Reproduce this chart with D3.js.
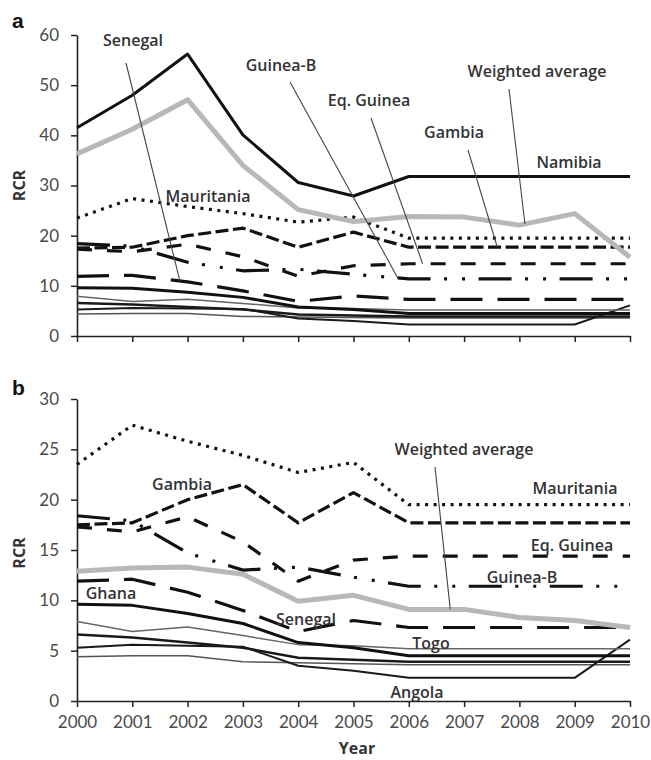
<!DOCTYPE html>
<html>
<head>
<meta charset="utf-8">
<script src="https://cdnjs.cloudflare.com/ajax/libs/d3/7.8.5/d3.min.js"></script>
<style>
  html, body { margin: 0; padding: 0; background: #fff; }
  svg { display: block; }
  .tick text { font-family: Lato, "Open Sans", sans-serif; fill: #4a4a4a; }
</style>
</head>
<body>
<svg id="chart" width="651" height="760"></svg>
<script>
// ---------------- data ----------------
const years = [2000, 2001, 2002, 2003, 2004, 2005, 2006, 2007, 2008, 2009, 2010];
const yTicksA = [0, 10, 20, 30, 40, 50, 60];
const yTicksB = [0, 5, 10, 15, 20, 25, 30];

const namibia    = [41.5, 48.0, 56.2, 40.1, 30.6, 27.9, 31.8, 31.8, 31.8, 31.8, 31.8];
const mauritania = [23.5, 27.4, 25.8, 24.4, 22.7, 23.7, 19.5, 19.5, 19.5, 19.5, 19.5];
const gambia     = [17.5, 17.7, 20.0, 21.5, 17.7, 20.7, 17.7, 17.7, 17.7, 17.7, 17.7];
const eqGuinea   = [17.3, 16.8, 18.3, 15.8, 11.9, 14.0, 14.4, 14.4, 14.4, 14.4, 14.4];
const guineaB    = [18.4, 17.9, 14.7, 13.0, 13.3, 12.3, 11.4, 11.4, 11.4, 11.4, 11.4];
const senegal    = [11.9, 12.1, 10.8, 9.0, 6.9, 8.0, 7.3, 7.3, 7.3, 7.3, 7.3];
const ghana      = [9.6, 9.5, 8.7, 7.7, 5.8, 5.3, 4.5, 4.5, 4.5, 4.5, 4.5];
const togo       = [7.9, 6.9, 7.35, 6.5, 5.6, 5.5, 5.2, 5.2, 5.2, 5.2, 5.2];
const otherA     = [6.6, 6.3, 5.8, 5.3, 4.3, 4.1, 3.9, 3.9, 3.9, 3.9, 3.9];
const angola     = [5.3, 5.6, 5.5, 5.4, 3.5, 3.0, 2.3, 2.3, 2.3, 2.3, 6.1];
const otherB     = [4.4, 4.5, 4.5, 3.9, 3.8, 3.7, 3.6, 3.6, 3.6, 3.6, 3.6];
const wAvgA      = [36.3, 41.2, 47.1, 34.0, 25.2, 22.8, 23.8, 23.7, 22.1, 24.4, 15.7];
const wAvgB      = [12.9, 13.2, 13.3, 12.6, 9.9, 10.5, 9.1, 9.1, 8.3, 8.0, 7.3];

// ---------------- styles ----------------
const styles = {
  namibia:    { color: "#111", width: 3, dash: null },
  mauritania: { color: "#111", width: 3.2, dash: "3 5.5" },
  gambia:     { color: "#111", width: 3.2, dash: "13 4.5" },
  eqGuinea:   { color: "#111", width: 3.2, dash: "15 15" },
  guineaB:    { color: "#111", width: 3.2, dash: "33 13.5 3 15 3 13.5" },
  senegal:    { color: "#111", width: 3.2, dash: "32 15" },
  ghana:      { color: "#111", width: 3, dash: null },
  togo:       { color: "#666", width: 1.5, dash: null },
  otherA:     { color: "#1a1a1a", width: 2.5, dash: null },
  angola:     { color: "#1a1a1a", width: 2, dash: null },
  otherB:     { color: "#555", width: 1.5, dash: null },
  wAvg:       { color: "#b8b8b8", width: 5, dash: null }
};

const seriesA = [
  ["otherB", otherB], ["angola", angola], ["otherA", otherA], ["togo", togo], ["ghana", ghana],
  ["senegal", senegal], ["guineaB", guineaB], ["eqGuinea", eqGuinea], ["gambia", gambia],
  ["mauritania", mauritania], ["wAvg", wAvgA], ["namibia", namibia]
];
const seriesB = [
  ["otherB", otherB], ["angola", angola], ["otherA", otherA], ["togo", togo], ["ghana", ghana],
  ["senegal", senegal], ["guineaB", guineaB], ["eqGuinea", eqGuinea], ["gambia", gambia],
  ["mauritania", mauritania], ["wAvg", wAvgB]
];

// label layout (text positions) and leader targets (year on a series)
const labelsA = [
  { text: "Senegal", x: 133, y: 40, from: [126, 63], target: [2001.86, senegal] },
  { text: "Guinea-B", x: 281, y: 65, from: [290, 82], target: [2005.8, guineaB] },
  { text: "Eq. Guinea", x: 369, y: 100, from: [371, 118], target: [2006.25, eqGuinea] },
  { text: "Gambia", x: 454, y: 132, from: [468, 150], target: [2007.6, gambia] },
  { text: "Weighted average", x: 537, y: 71, from: [509, 89], target: [2008.1, wAvgA] },
  { text: "Namibia", x: 569, y: 162 },
  { text: "Mauritania", x: 208, y: 196 }
];
const labelsB = [
  { text: "Gambia", x: 182, y: 484 },
  { text: "Weighted average", x: 464, y: 449, from: [435, 467], target: [2006.75, wAvgB] },
  { text: "Mauritania", x: 575, y: 488 },
  { text: "Eq. Guinea", x: 572, y: 545 },
  { text: "Guinea-B", x: 522, y: 577 },
  { text: "Ghana", x: 111, y: 593 },
  { text: "Senegal", x: 306, y: 619 },
  { text: "Togo", x: 431, y: 643 },
  { text: "Angola", x: 417, y: 692 }
];

// ---------------- drawing ----------------
const svg = d3.select("#chart");
const FONT = "'Open Sans', Lato, sans-serif";

const x = d3.scaleLinear().domain([2000, 2010]).range([77, 630]);

function interp(arr, yr) {
  const i = Math.min(Math.floor(yr - 2000), 9);
  const t = yr - 2000 - i;
  return arr[i] + (arr[i + 1] - arr[i]) * t;
}

function panel(opts) {
  const y = d3.scaleLinear().domain([0, opts.ymax]).range([opts.y0, opts.y1]);
  const g = svg.append("g");

  // y axis
  const ya = g.append("g").attr("transform", `translate(${x(2000)},0)`)
    .call(d3.axisLeft(y).tickValues(opts.yticks).tickSize(6).tickSizeOuter(0).tickPadding(12));
  ya.selectAll("text").style("font-size", "17px");
  ya.select(".domain").attr("stroke", "#222").attr("stroke-width", 1.6);
  ya.selectAll(".tick line").attr("stroke", "#222").attr("stroke-width", 1.5);

  // x axis
  const xa = g.append("g").attr("transform", `translate(0,${y(0)})`)
    .call(d3.axisBottom(x).tickValues(years).tickFormat(d3.format("d")).tickSize(6).tickSizeOuter(0).tickPadding(9));
  xa.selectAll("text").style("font-size", "17px");
  if (!opts.xlabels) xa.selectAll("text").remove();
  xa.select(".domain").attr("stroke", "#222").attr("stroke-width", 1.6);
  xa.selectAll(".tick line").attr("stroke", "#222").attr("stroke-width", 1.5);

  // lines
  const line = d3.line().x((d, i) => x(years[i])).y(d => y(d));
  opts.series.forEach(([key, vals]) => {
    const s = styles[key];
    g.append("path").datum(vals)
      .attr("d", line)
      .attr("fill", "none")
      .attr("stroke", s.color)
      .attr("stroke-width", s.width)
      .attr("stroke-linejoin", "round")
      .attr("stroke-dasharray", s.dash);
  });

  // labels + leaders
  opts.labels.forEach(l => {
    if (l.from) {
      const [yr, arr] = l.target;
      g.append("line")
        .attr("x1", l.from[0]).attr("y1", l.from[1])
        .attr("x2", x(yr)).attr("y2", y(interp(arr, yr)))
        .attr("stroke", "#444").attr("stroke-width", 1.1);
    }
    g.append("text").attr("x", l.x).attr("y", l.y)
      .attr("text-anchor", "middle").attr("dominant-baseline", "central")
      .style("font-family", FONT).style("font-size", "16px").style("font-weight", 600)
      .attr("fill", "#333").text(l.text);
  });

  // panel letter
  svg.append("text").attr("x", 12).attr("y", opts.letterY)
    .style("font-family", "'Liberation Sans', Arial, sans-serif").style("font-size", "21px").style("font-weight", 700)
    .attr("fill", "#111").text(opts.letter);

  // y title
  const cy = (opts.y0 + opts.y1) / 2 + opts.titleShift;
  svg.append("text").attr("transform", `translate(19,${cy}) rotate(-90)`)
    .attr("text-anchor", "middle").attr("dominant-baseline", "central")
    .style("font-family", FONT).style("font-size", "16px").style("font-weight", 700)
    .attr("fill", "#333").text("RCR");
}

panel({ ymax: 60, y0: 336, y1: 35, yticks: yTicksA, series: seriesA, labels: labelsA,
        xlabels: false, letter: "a", letterY: 28, titleShift: 0 });
panel({ ymax: 30, y0: 701, y1: 399, yticks: yTicksB, series: seriesB, labels: labelsB,
        xlabels: true, letter: "b", letterY: 395, titleShift: 3 });

svg.append("text").attr("x", 357).attr("y", 748)
  .attr("text-anchor", "middle").attr("dominant-baseline", "central")
  .style("font-family", FONT).style("font-size", "16px").style("font-weight", 700)
  .attr("fill", "#333").text("Year");
</script>
</body>
</html>
